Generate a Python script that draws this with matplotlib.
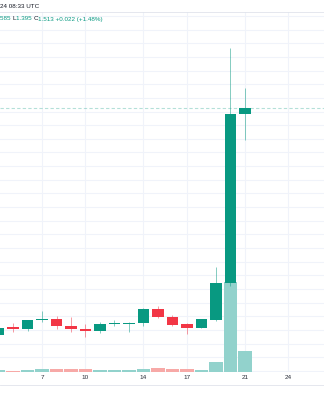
import matplotlib.pyplot as plt
import numpy as np
from matplotlib.lines import Line2D

# Données du graphique (bougies journalières)
jours = [4, 5, 6, 7, 8, 9, 10, 11, 12, 13, 14, 15, 16, 17, 18, 19, 20, 21]
ouverture = [0.681, 0.7095, 0.703, 0.735, 0.739, 0.714, 0.704, 0.697, 0.7205,
             0.7205, 0.726, 0.7755, 0.748, 0.7216, 0.708, 0.735, 0.871, 1.491]
haut = [0.711, 0.726, 0.736, 0.769, 0.751, 0.747, 0.722, 0.728, 0.736,
        0.730, 0.781, 0.788, 0.755, 0.726, 0.741, 0.932, 1.733, 1.586]
bas = [0.678, 0.691, 0.697, 0.729, 0.704, 0.693, 0.675, 0.688, 0.715,
       0.691, 0.715, 0.744, 0.714, 0.685, 0.707, 0.733, 0.861, 1.395]
cloture = [0.708, 0.702, 0.736, 0.740, 0.714, 0.704, 0.697, 0.722, 0.724,
           0.726, 0.777, 0.748, 0.718, 0.708, 0.739, 0.871, 1.491, 1.513]
volume = [2.0, 1.3, 2.3, 3.0, 3.0, 3.0, 3.0, 2.0, 2.0,
          2.0, 3.3, 4.0, 3.0, 3.0, 2.0, 10.3, 90.0, 21.3]
ticks_jours = [7, 10, 14, 17, 21, 24]

vert = '#089981'
rouge = '#f23645'
vert_vol = '#92d2cc'
rouge_vol = '#f7a9a7'
texte = '#131722'

plt.rcParams['font.family'] = ['Liberation Sans', 'DejaVu Sans']

# Création de la figure
fig = plt.figure(figsize=(3.24, 4.0), dpi=100)
ax = fig.add_axes([0, 0.07, 1, 0.9])

ymin, ymax = 0.5458, 1.8645
ax.set_xlim(4.103, 26.45)
ax.set_ylim(ymin, ymax)

# Grille
ax.set_yticks(np.arange(0.55, 1.86, 0.05))
ax.set_xticks(ticks_jours)
ax.set_xticklabels([str(j) for j in ticks_jours])
ax.grid(color='#f0f3fa', linewidth=0.8)
ax.set_axisbelow(True)
ax.tick_params(length=0, labelleft=False, labelsize=4.6, labelcolor='#2a2e39', pad=2.3)
for s in ax.spines.values():
    s.set_visible(False)

o = np.array(ouverture)
c = np.array(cloture)
hausse = c >= o
couleurs = [vert if h else rouge for h in hausse]
couleurs_vol = [vert_vol if h else rouge_vol for h in hausse]

# Volume (25 % du bas du graphique)
echelle = 0.25 * (ymax - ymin) / max(volume)
ax.bar(jours, np.array(volume) * echelle, bottom=ymin, width=0.96,
       color=couleurs_vol, linewidth=0, zorder=1)

# Mèches et corps des bougies
ax.vlines(jours, bas, haut, colors=couleurs, linewidth=0.7, alpha=0.5, zorder=2)
hauteur = np.maximum(np.abs(c - o), 0.003)
ax.bar(jours, hauteur, bottom=np.minimum(o, c), width=0.8,
       color=couleurs, linewidth=0, zorder=3)

# Ligne du dernier prix
ax.axhline(cloture[-1], color=vert, alpha=0.3, linewidth=0.8,
           linestyle=(0, (3, 2)), zorder=1.5)

# Séparateurs
fig.add_artist(Line2D([0, 1], [0.9708, 0.9708], color='#e0e3eb', linewidth=0.6))
fig.add_artist(Line2D([0, 1], [0.0375, 0.0375], color='#e0e3eb', linewidth=0.6))

# Légende en haut
fig.text(0.0, 1 - 6 / 400, '24 08:33 UTC', fontsize=4.5, color=texte, va='center')

morceaux = [('585 ', vert), ('L', texte), ('1.395 ', vert), ('C', texte),
            ('1.513 +0.022 (+1.48%)', vert)]
renderer = fig.canvas.get_renderer()
prefixe = ''
for txt, col in morceaux:
    if prefixe:
        mesure = fig.text(0, 0, prefixe, fontsize=4.5)
        x = mesure.get_window_extent(renderer).width / fig.bbox.width
        mesure.remove()
    else:
        x = 0.0
    fig.text(x, 1 - 19 / 400, txt, fontsize=4.5, color=col, va='center')
    prefixe += txt

fig.savefig('out.png', dpi=100)
